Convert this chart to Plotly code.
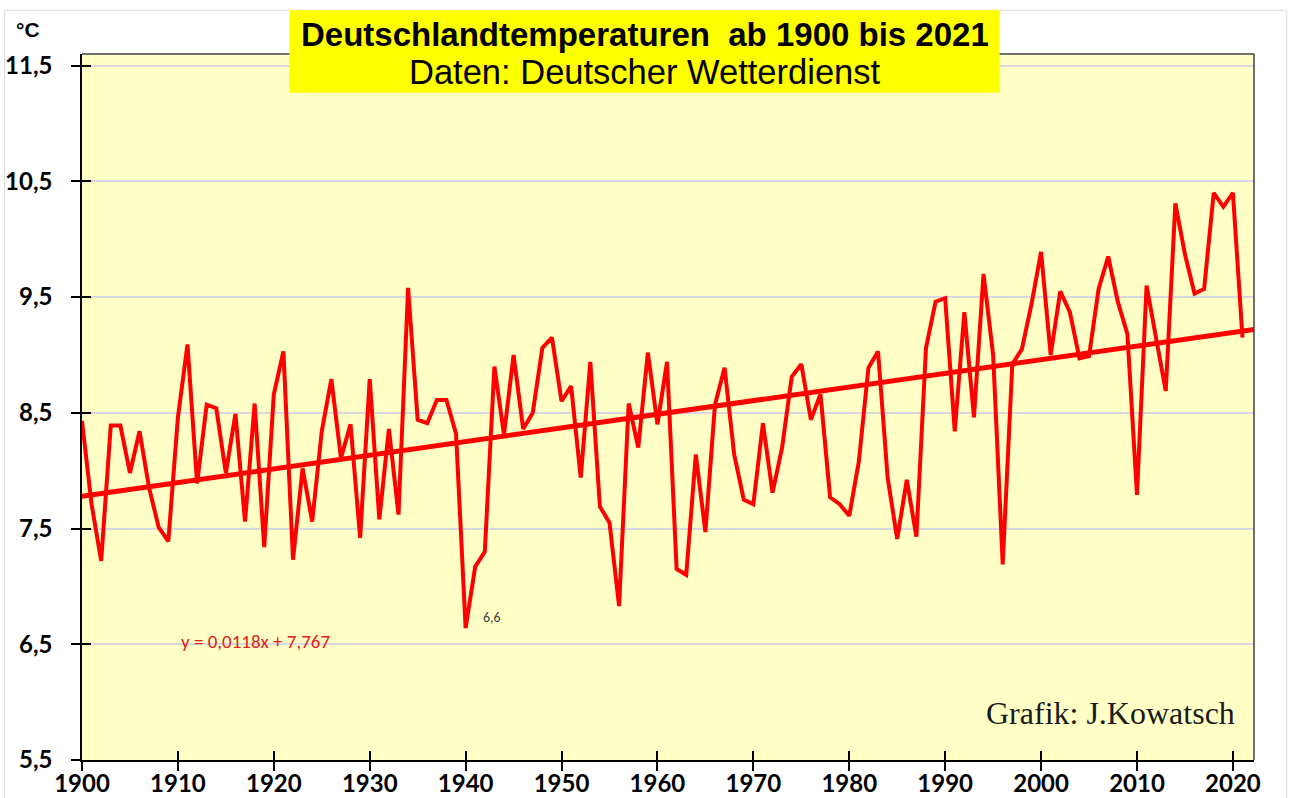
import plotly.graph_objects as go

years = list(range(1900, 2022))
temps = [
    8.43, 7.71, 7.22, 8.39, 8.39, 7.98, 8.34, 7.85, 7.51, 7.39,
    8.46, 9.09, 7.89, 8.57, 8.54, 7.98, 8.49, 7.56, 8.58, 7.34,
    8.66, 9.03, 7.23, 8.02, 7.56, 8.34, 8.79, 8.11, 8.40, 7.42,
    8.79, 7.58, 8.36, 7.62, 9.58, 8.44, 8.41, 8.61, 8.61, 8.32,
    6.64, 7.17, 7.30, 8.90, 8.31, 9.00, 8.36, 8.50, 9.06, 9.15,
    8.60, 8.73, 7.94, 8.94, 7.69, 7.55, 6.83, 8.58, 8.20, 9.02,
    8.40, 8.94, 7.15, 7.10, 8.14, 7.47, 8.57, 8.89, 8.14, 7.75,
    7.71, 8.41, 7.81, 8.20, 8.81, 8.92, 8.44, 8.66, 7.77, 7.71,
    7.61, 8.08, 8.89, 9.03, 7.94, 7.41, 7.92, 7.43, 9.06, 9.46,
    9.49, 8.34, 9.37, 8.46, 9.70, 9.00, 7.19, 8.92, 9.05, 9.44,
    9.89, 9.00, 9.55, 9.37, 8.97, 8.99, 9.57, 9.85, 9.46, 9.18,
    7.79, 9.60, 9.14, 8.69, 10.31, 9.87, 9.53, 9.57, 10.40, 10.28,
    10.40, 9.15,
]
trend_slope = 0.0118
trend_intercept = 7.767
x_ticks = list(range(1900, 2021, 10))
y_ticks = [5.5, 6.5, 7.5, 8.5, 9.5, 10.5, 11.5]
y_ticktext = ["5,5", "6,5", "7,5", "8,5", "9,5", "10,5", "11,5"]

x_min, x_max = 1900, 2022.2
y_min, y_max = 5.5, 11.6

trend_x = [x_min, x_max]
trend_y = [trend_intercept + trend_slope * (x - 1899) for x in trend_x]

fig = go.Figure()
fig.add_trace(go.Scatter(x=years, y=temps, mode="lines",
                         line=dict(color="#FF0000", width=4),
                         hoverinfo="x+y", showlegend=False))
fig.add_trace(go.Scatter(x=trend_x, y=trend_y, mode="lines",
                         line=dict(color="#FF0000", width=5),
                         hoverinfo="skip", showlegend=False))
# invisible trace creating overlay axes for the inner half of the crossing ticks
fig.add_trace(go.Scatter(x=[x_min], y=[y_min], xaxis="x2", yaxis="y2",
                         mode="markers", marker=dict(opacity=0),
                         hoverinfo="skip", showlegend=False))

tickfont = dict(family="Lato, Liberation Sans, sans-serif", size=24,
                color="#000000", weight="bold")

fig.update_layout(
    width=1291, height=798,
    margin=dict(l=82, r=37, t=54, b=38, autoexpand=False),
    paper_bgcolor="#FFFFFF",
    plot_bgcolor="#FFFFC6",
    xaxis=dict(range=[x_min, x_max], tickmode="array", tickvals=x_ticks,
               ticks="outside", ticklen=9, tickwidth=1.5, tickcolor="#000000",
               showline=True, linecolor="#000000", linewidth=1.5, mirror=False,
               showgrid=False, zeroline=False, ticklabelstandoff=-8,
               automargin=False, tickfont=tickfont),
    yaxis=dict(range=[y_min, y_max], tickmode="array", tickvals=y_ticks,
               ticktext=y_ticktext,
               ticks="outside", ticklen=9, tickwidth=1.5, tickcolor="#000000",
               showline=True, linecolor="#000000", linewidth=1.5,
               showgrid=True, gridcolor="#D6D8E0", gridwidth=1.5, zeroline=False,
               ticklabelstandoff=14, automargin=False, tickfont=tickfont),
    xaxis2=dict(range=[x_min, x_max], overlaying="x", tickmode="array",
                tickvals=x_ticks, ticks="inside", ticklen=9, tickwidth=1.5,
                tickcolor="#000000", showticklabels=False, showgrid=False,
                zeroline=False, showline=False, side="bottom", automargin=False),
    yaxis2=dict(range=[y_min, y_max], overlaying="y", tickmode="array",
                tickvals=y_ticks, ticks="inside", ticklen=9, tickwidth=1.5,
                tickcolor="#000000", showticklabels=False, showgrid=False,
                zeroline=False, showline=False, side="left", automargin=False),
    shapes=[
        dict(type="line", xref="paper", yref="paper", x0=0, x1=1, y0=1, y1=1,
             line=dict(color="#404040", width=1.5)),
        dict(type="line", xref="paper", yref="paper", x0=1, x1=1, y0=0, y1=1,
             line=dict(color="#404040", width=1.5)),
        dict(type="rect", xref="paper", yref="paper",
             x0=-0.066, x1=1.028, y0=-0.06, y1=1.062,
             line=dict(color="#D9D9D9", width=1), layer="below"),
        dict(type="rect", xref="paper", yref="paper",
             x0=0.177, x1=0.783, y0=0.945, y1=1.062,
             fillcolor="#FFFF00", line=dict(width=0), layer="above"),
    ],
    annotations=[
        dict(text="<b>Deutschlandtemperaturen  ab 1900 bis 2021</b>",
             xref="paper", yref="paper", x=0.48, y=1.027, showarrow=False,
             xanchor="center", yanchor="middle",
             font=dict(family="Liberation Sans Narrow, Arial Narrow, Liberation Sans, sans-serif",
                       size=33, color="#000000")),
        dict(text="Daten: Deutscher Wetterdienst",
             xref="paper", yref="paper", x=0.48, y=0.9745, showarrow=False,
             xanchor="center", yanchor="middle",
             font=dict(family="Liberation Sans Narrow, Arial Narrow, Liberation Sans, sans-serif",
                       size=34.5, color="#000000")),
        dict(text="<b>°C</b>", xref="paper", yref="paper", x=-0.058, y=1.035,
             showarrow=False, xanchor="left", yanchor="middle",
             font=dict(family="Liberation Sans, sans-serif", size=21, color="#000000")),
        dict(text="y = 0,0118x + 7,767", x=1918.1, y=6.52, xref="x", yref="y",
             showarrow=False, xanchor="center", yanchor="middle",
             font=dict(family="Carlito, Lato, sans-serif", size=19, color="#E0201B")),
        dict(text="6,6", x=1942.7, y=6.73, xref="x", yref="y",
             showarrow=False, xanchor="center", yanchor="middle",
             font=dict(family="Carlito, Lato, sans-serif", size=14, color="#404040")),
        dict(text="Grafik: J.Kowatsch", xref="paper", yref="paper",
             x=0.9855, y=0.0666, showarrow=False, xanchor="right", yanchor="middle",
             font=dict(family="Liberation Serif, Times New Roman, serif",
                       size=32, color="#1A1A1A")),
    ],
)

fig.write_html("out.html", config={"displayModeBar": False},
               post_script="document.body.style.margin='0';")
